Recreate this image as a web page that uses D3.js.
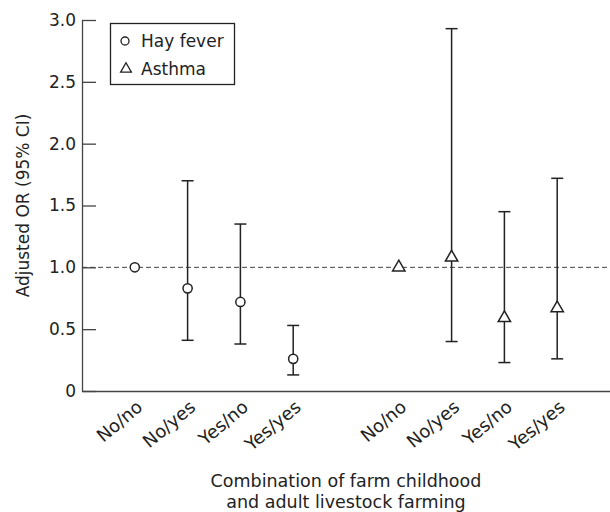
<!DOCTYPE html>
<html>
<head>
<meta charset="utf-8">
<script src="https://cdn.jsdelivr.net/npm/d3@7"></script>
<style>
  body { margin: 0; background: #fff; }
  svg { display: block; font-family: "DejaVu Sans", sans-serif; }
</style>
</head>
<body>
<svg></svg>
<script>
// Adjusted OR (95% CI) by farm childhood / adult livestock farming

const categories = ["No/no", "No/yes", "Yes/no", "Yes/yes"];
const hayOR   = [1.0, 0.83, 0.72, 0.26];
const hayLow  = [null, 0.41, 0.38, 0.13];
const hayHigh = [null, 1.70, 1.35, 0.53];
const asthmaOR   = [1.0, 1.08, 0.59, 0.67];
const asthmaLow  = [null, 0.40, 0.23, 0.26];
const asthmaHigh = [null, 2.93, 1.45, 1.72];
const yTicks = [0, 0.5, 1.0, 1.5, 2.0, 2.5, 3.0];

const width = 610, height = 512;
const margin = {top: 20, right: 0, bottom: 121, left: 82};

const svg = d3.select("svg")
    .attr("width", width)
    .attr("height", height);

// slot keys: hay fever group, one empty gap, asthma group
const slots = categories.map(c => "h" + c)
    .concat(["gap"])
    .concat(categories.map(c => "a" + c));

const x = d3.scalePoint()
    .domain(slots)
    .range([margin.left, width - margin.right])
    .padding(1);

const y = d3.scaleLinear()
    .domain([0, 3])
    .range([height - margin.bottom, margin.top]);

const ink = "#222";

// y axis, ticks pointing inward
const yAxis = svg.append("g")
    .attr("transform", `translate(${margin.left},0)`)
    .call(d3.axisLeft(y)
      .tickValues(yTicks)
      .tickFormat(d => d === 0 ? "0" : d3.format(".1f")(d))
      .tickSizeInner(-14)
      .tickSizeOuter(0)
      .tickPadding(6));
yAxis.selectAll("path, line").attr("stroke", "#444").attr("stroke-width", 1.3);
yAxis.selectAll("text")
    .attr("fill", ink)
    .style("font-size", "17px")
    .style("font-family", "'DejaVu Sans', sans-serif");

// x axis (line only, labels rotated)
const xAxis = svg.append("g")
    .attr("transform", `translate(0,${y(0)})`)
    .call(d3.axisBottom(x).tickSize(0).tickFormat(""));
xAxis.select(".domain").attr("stroke", "#444").attr("stroke-width", 1.3);
xAxis.selectAll(".tick").remove();

const labelData = slots.filter(s => s !== "gap");
svg.append("g").selectAll("text")
  .data(labelData)
  .join("text")
    .attr("transform", d => `translate(${x(d) + 9},${y(0) + 18}) rotate(-40)`)
    .attr("text-anchor", "end")
    .attr("fill", ink)
    .style("font-size", "18px")
    .text(d => d.slice(1));

// reference line at OR = 1
svg.append("line")
    .attr("x1", margin.left)
    .attr("x2", width - margin.right)
    .attr("y1", y(1))
    .attr("y2", y(1))
    .attr("stroke", "#444")
    .attr("stroke-width", 1)
    .attr("stroke-dasharray", "5,3");

function series(prefix, or, lo, hi) {
  return categories.map((c, i) => ({key: prefix + c, or: or[i], lo: lo[i], hi: hi[i]}));
}
const hay = series("h", hayOR, hayLow, hayHigh);
const asthma = series("a", asthmaOR, asthmaLow, asthmaHigh);

// error bars
const bars = svg.append("g")
    .attr("stroke", ink)
    .attr("stroke-width", 1.5)
    .attr("fill", "none");
const withCI = hay.concat(asthma).filter(d => d.lo !== null);
bars.selectAll(".v")
  .data(withCI)
  .join("line")
    .attr("x1", d => x(d.key)).attr("x2", d => x(d.key))
    .attr("y1", d => y(d.lo)).attr("y2", d => y(d.hi));
bars.selectAll(".lo")
  .data(withCI)
  .join("line")
    .attr("class", "lo")
    .attr("x1", d => x(d.key) - 6).attr("x2", d => x(d.key) + 6)
    .attr("y1", d => y(d.lo)).attr("y2", d => y(d.lo));
bars.selectAll(".hi")
  .data(withCI)
  .join("line")
    .attr("class", "hi")
    .attr("x1", d => x(d.key) - 6).attr("x2", d => x(d.key) + 6)
    .attr("y1", d => y(d.hi)).attr("y2", d => y(d.hi));

// markers
svg.append("g").selectAll("circle")
  .data(hay)
  .join("circle")
    .attr("cx", d => x(d.key))
    .attr("cy", d => y(d.or))
    .attr("r", 4.6)
    .attr("fill", "#fff")
    .attr("stroke", ink)
    .attr("stroke-width", 1.5);

const tri = d3.symbol().type(d3.symbolTriangle).size(66);
svg.append("g").selectAll("path")
  .data(asthma)
  .join("path")
    .attr("transform", d => `translate(${x(d.key)},${y(d.or)})`)
    .attr("d", tri)
    .attr("fill", "#fff")
    .attr("stroke", ink)
    .attr("stroke-width", 1.5);

// legend
const legend = svg.append("g");
legend.append("rect")
    .attr("x", 110.5).attr("y", 23.5)
    .attr("width", 124).attr("height", 61)
    .attr("fill", "#fff")
    .attr("stroke", ink)
    .attr("stroke-width", 1.3);
legend.append("circle")
    .attr("cx", 125).attr("cy", 41).attr("r", 4)
    .attr("fill", "#fff").attr("stroke", ink).attr("stroke-width", 1.3);
legend.append("path")
    .attr("transform", "translate(126,69)")
    .attr("d", d3.symbol().type(d3.symbolTriangle).size(50))
    .attr("fill", "#fff").attr("stroke", ink).attr("stroke-width", 1.3);
legend.selectAll("text")
  .data(["Hay fever", "Asthma"])
  .join("text")
    .attr("x", 141)
    .attr("y", (d, i) => 47 + i * 28)
    .attr("fill", ink)
    .style("font-size", "17px")
    .text(d => d);

// axis titles
svg.append("text")
    .attr("transform", `translate(29,${(y(0) + y(3)) / 2}) rotate(-90)`)
    .attr("text-anchor", "middle")
    .attr("fill", ink)
    .style("font-size", "17px")
    .text("Adjusted OR (95% CI)");

const xt = svg.append("text")
    .attr("text-anchor", "middle")
    .attr("fill", ink)
    .style("font-size", "17.5px");
xt.append("tspan")
    .attr("x", (margin.left + width) / 2).attr("y", 487)
    .text("Combination of farm childhood");
xt.append("tspan")
    .attr("x", (margin.left + width) / 2).attr("y", 508)
    .text("and adult livestock farming");
</script>
</body>
</html>
